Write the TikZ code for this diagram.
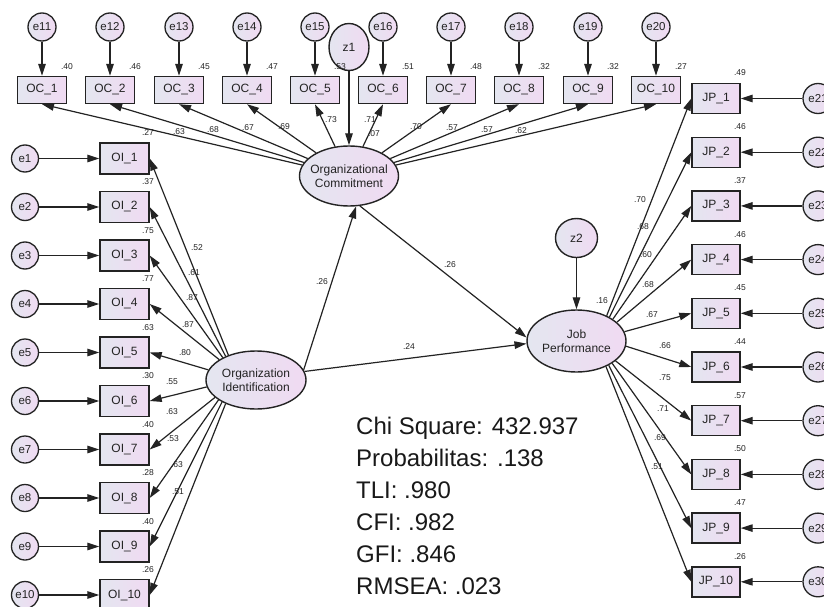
\documentclass[tikz,border=0pt]{standalone}
\usepackage{fontspec}
\setmainfont{Liberation Sans}
\usetikzlibrary{shapes.geometric,arrows.meta,calc}
\definecolor{ln}{RGB}{35,35,35}
\definecolor{tx}{RGB}{35,35,35}
\definecolor{fl}{RGB}{228,230,240}
\definecolor{fr}{RGB}{240,218,242}
\begin{document}
\begin{tikzpicture}[x=1pt,y=-1pt,
  obs/.style={draw=ln,line width=1.4pt,rectangle,minimum width=49pt,minimum height=30pt,inner sep=0pt,left color=fl,right color=fr,font=\fontsize{12}{12}\selectfont,text=tx},
  err/.style={draw=ln,line width=1.3pt,circle,minimum size=27pt,inner sep=0pt,left color=fl,right color=fr,font=\fontsize{11.5}{12}\selectfont,text=tx},
  lat/.style={draw=ln,line width=1.4pt,ellipse,minimum width=99pt,minimum height=60pt,inner sep=0pt,left color=fl,right color=fr},
  lattext/.style={align=center,font=\fontsize{12}{14.5}\selectfont,text=tx,inner sep=0pt},
  num/.style={font=\fontsize{8.5}{9}\selectfont,text=tx,inner sep=0pt},
  arr/.style={draw=ln,line width=1.2pt,-{Triangle[length=12pt,width=7.5pt]}},
  stat/.style={font=\fontsize{24}{24}\selectfont,text=black!90,anchor=base west,inner sep=0pt}
]
\useasboundingbox (0,0) rectangle (824,607);
\fill[white] (0,0) rectangle (824,607);
\clip (0,0) rectangle (824,607);

% latent variables
\node[lat] (oc) at (349,176) {};
\node[lattext] (octx) at (oc) {Organizational\\Commitment};
\node[lat,minimum height=58pt,minimum width=100pt] (oi) at (256,380) {};
\node[lattext] (oitx) at (oi) {Organization\\Identification};
\node[lat,minimum height=62pt] (jp) at (576.5,341) {};
\node[lattext] (jptx) at (jp) {Job\\Performance};
\node[lat,minimum width=40pt,minimum height=47pt,font=\fontsize{12}{12}\selectfont,text=tx] (z1) at (349,47) {z1};
\node[lat,minimum width=42pt,minimum height=39pt,font=\fontsize{12}{12}\selectfont,text=tx] (z2) at (576.5,238) {z2};

% OC indicators
\foreach \i/\x/\e in {1/42/11,2/110/12,3/179/13,4/247/14,5/315/15,6/383/16,7/451/17,8/519/18,9/588/19,10/656/20}{
  \node[obs,minimum height=27pt] (oc\i) at (\x,90) {OC\_\i};
  \node[err,minimum size=28pt] (e\e) at (\x,27) {e\e};
  \draw[arr] (e\e) -- (oc\i);
  \draw[arr] (oc) -- (oc\i.south);
}
% OI indicators
\foreach \i/\y/\a in {1/158.5/138,2/207/142,3/255.5/146,4/304/151,5/352.5/168,6/401/188,7/449.5/203,8/498/208,9/546.5/213,10/595/218}{
  \node[obs,minimum height=31pt] (oi\i) at (124.5,\y) {OI\_\i};
  \node[err] (e\i) at (25,\y) {e\i};
  \draw[arr] (e\i) -- (oi\i);
  \draw[arr] (oi.\a) -- (oi\i.east);
}
% JP indicators
\foreach \i/\y/\e/\a in {1/98.5/21/40,2/152.2/22/36,3/205.9/23/31,4/259.6/24/25,5/313.3/25/11,6/367/26/-6,7/420.7/27/-27,8/474.4/28/-32,9/528.1/29/-37,10/581.8/30/-41}{
  \node[obs,minimum width=48pt] (jp\i) at (716,\y) {JP\_\i};
  \node[err,minimum size=30pt] (e\e) at (818,\y) {e\e};
  \draw[arr] (e\e) -- (jp\i);
  \draw[arr] (jp.\a) -- (jp\i.west);
}

% structural paths
\draw[arr] (z1) -- (oc);
\draw[arr] (z2) -- (jp);
\draw[arr] (oi.12) -- (oc.-77);
\draw[arr] (oc.-70) -- (jp.176);
\draw[arr] (oi.10) -- (jp.183);

% squared multiple correlations
\foreach \n/\x/\r in {1/67/.40,2/135/.46,3/204/.45,4/272/.47,5/340/.53,6/408/.51,7/476/.48,8/544/.32,9/613/.32,10/681/.27}{
  \node[num] (roc\n) at (\x,67) {\r};
}
\foreach \n/\y/\r in {1/182/.37,2/230.5/.75,3/279/.77,4/327.5/.63,5/376/.30,6/424.5/.40,7/473/.28,8/521.5/.40,9/570/.26}{
  \node[num] (roi\n) at (148,\y) {\r};
}
\foreach \n/\y/\r in {1/73/.49,2/126.7/.46,3/180.4/.37,4/234.1/.46,5/287.8/.45,6/341.5/.44,7/395.2/.57,8/448.9/.50,9/502.6/.47,10/556.3/.26}{
  \node[num] (rjp\n) at (740,\y) {\r};
}
\node[num] (roc) at (374,134) {.07};
\node[num] (rjp) at (602,301) {.16};

% loadings
\foreach \n/\x/\y/\r in {1/148/133/.27,2/179/132/.63,3/213/130/.68,4/248/128/.67,5/284/127/.69,6/331/120/.73,7/370/120/.71,8/416/127/.70,9/452/128/.57,10/487/130/.57,11/521/131/.62}{
  \node[num] (loc\n) at (\x,\y) {\r};
}
\foreach \n/\x/\y/\r in {1/197/248/.52,2/194/273/.61,3/192/298/.87,4/188/325/.87,5/185/353/.80,6/172/382/.55,7/172/412/.63,8/173/439/.53,9/177/465/.63,10/178/492/.51}{
  \node[num] (loi\n) at (\x,\y) {\r};
}
\foreach \n/\x/\y/\r in {1/640/200/.70,2/643/227/.68,3/646/255/.60,4/648/285/.68,5/652/315/.67,6/665/346/.66,7/665/378/.75,8/663/409/.71,9/660/438/.69,10/657/467/.51}{
  \node[num] (ljp\n) at (\x,\y) {\r};
}
\node[num] (s1) at (322,282) {.26};
\node[num] (s2) at (450,265) {.26};
\node[num] (s3) at (409,347) {.24};

% fit statistics
\node[stat] (chi) at (356,434) {Chi Square: 432.937};
\node[stat] (prob) at (356,466) {Probabilitas: .138};
\node[stat] (tli) at (356,498) {TLI: .980};
\node[stat] (cfi) at (356,530) {CFI: .982};
\node[stat] (gfi) at (356,562) {GFI: .846};
\node[stat] (rmsea) at (356,594) {RMSEA: .023};
\end{tikzpicture}
\end{document}
